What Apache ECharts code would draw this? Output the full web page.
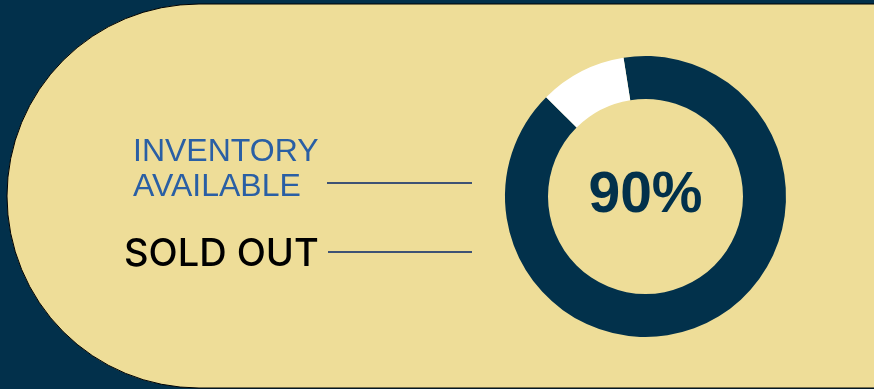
<!DOCTYPE html>
<html>
<head>
<meta charset="utf-8">
<script src="https://cdn.jsdelivr.net/npm/echarts@6/dist/echarts.min.js"></script>
<style>
html,body{margin:0;padding:0;background:#02304B;}
#chart{width:874px;height:389px;}
</style>
</head>
<body>
<div id="chart"></div>
<script>
const categories = ['SOLD OUT', 'INVENTORY AVAILABLE'];
const values = [90, 10];
const sliceColors = ['#02314B', '#FFFFFF'];
const centerLabel = values[0] + '%';

const chart = echarts.init(document.getElementById('chart'), null, {renderer: 'canvas'});
chart.setOption({
  backgroundColor: '#02304B',
  animation: false,
  graphic: [
    {
      type: 'rect', z: 0,
      shape: {x: 7, y: 4, width: 1000, height: 384, r: [192, 0, 0, 192]},
      style: {fill: '#EEDD98', stroke: '#000000', lineWidth: 1}
    },
    {
      type: 'text', z: 5, left: 133, top: 135,
      style: {text: 'INVENTORY\nAVAILABLE', fill: '#2A5FA4', font: '32px "Liberation Sans", Arial, sans-serif', lineHeight: 35}
    },
    {
      type: 'text', z: 5, left: 124, top: 236,
      style: {text: 'SOLD OUT', fill: '#000000', font: '500 38px Inter, sans-serif'}
    },
    {
      type: 'line', z: 5,
      shape: {x1: 327, y1: 183, x2: 472, y2: 183},
      style: {stroke: '#3E5274', lineWidth: 2}
    },
    {
      type: 'line', z: 5,
      shape: {x1: 328, y1: 252, x2: 472, y2: 252},
      style: {stroke: '#3E5274', lineWidth: 2}
    }
  ],
  series: [{
    type: 'pie',
    z: 10,
    center: [645.5, 196.5],
    radius: [97.5, 140.5],
    startAngle: 99,
    clockwise: true,
    silent: true,
    label: {show: false},
    labelLine: {show: false},
    itemStyle: {borderWidth: 0},
    data: categories.map((c, i) => ({name: c, value: values[i], itemStyle: {color: sliceColors[i]}}))
  }, {
    type: 'pie',
    z: 11,
    center: [645.5, 196.5],
    radius: [0, 1],
    silent: true,
    label: {show: true, position: 'center', formatter: centerLabel, color: '#02314B', fontSize: 57, fontWeight: 'bold', fontFamily: '"Liberation Sans", Arial, sans-serif'},
    labelLine: {show: false},
    itemStyle: {color: 'rgba(0,0,0,0)'},
    data: [{name: categories[0], value: values[0]}]
  }]
});
</script>
</body>
</html>
